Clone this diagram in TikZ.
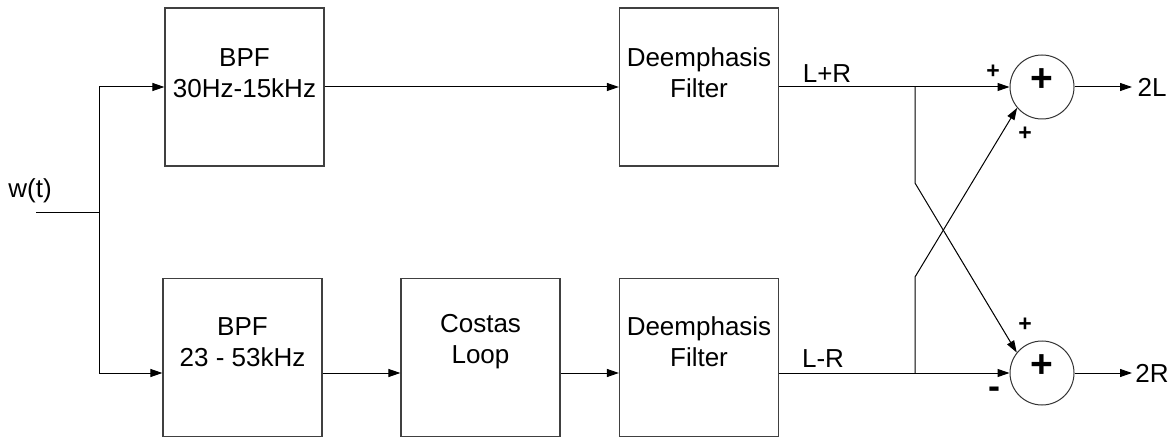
\documentclass[tikz,border=0pt]{standalone}
\usepackage{fontspec}
\setmainfont{Liberation Sans}
\usetikzlibrary{arrows.meta}
\begin{document}
\begin{tikzpicture}[x={(1pt,0)},y={(0,-1pt)},
  blk/.style={draw=black!75,line width=1.2pt,rectangle,minimum width=159pt,minimum height=158pt,inner sep=0pt},
  txt/.style={font=\fontsize{26}{31}\selectfont,align=center,inner sep=0pt},
  sumc/.style={draw=black!80,line width=1pt,circle,minimum size=64pt,inner sep=0pt},
  big/.style={font=\fontsize{39}{39}\selectfont\bfseries,inner sep=0pt},
  sgn/.style={font=\fontsize{23}{23}\selectfont\bfseries,inner sep=0pt},
  minus/.style={font=\fontsize{36}{36}\selectfont\bfseries,inner sep=0pt},
  wire/.style={line width=1pt},
  arr/.style={line width=1pt,-{Triangle[length=12pt,width=8pt]}}]
\useasboundingbox (0,0) rectangle (1175,438);
% blocks
\node[blk] (bpf1) at (244.5,87) {};
\node[blk] (bpf2) at (242.5,357.5) {};
\node[blk] (cos)  at (480.5,357.5) {};
\node[blk] (dp1)  at (699,87) {};
\node[blk] (dp2)  at (699,357.5) {};
\node[txt] (tbpf1) at (244.5,73) {BPF\\30Hz-15kHz};
\node[txt] (tbpf2) at (242.5,342) {BPF\\23 - 53kHz};
\node[txt] (tcos)  at (480.5,342) {Costas\\Loop};
\node[txt] (tdp1)  at (699,72.5) {Deemphasis\\Filter};
\node[txt] (tdp2)  at (699,342) {Deemphasis\\Filter};
% summers
\node[sumc] (sum1) at (1042,87) {};
\node[sumc] (sum2) at (1042,373) {};
\node[big] (p1) at (1042,80) {+};
\node[big] (p2) at (1042,366) {+};
\node[sgn] (s1) at (993,72) {+};
\node[sgn] (s2) at (1025,134) {+};
\node[sgn] (s3) at (1025,325) {+};
\node[minus] (s4) at (994,393) {-};
% labels
\node[txt] (w) at (30,191) {w(t)};
\node[txt] (lpr) at (827,74) {L+R};
\node[txt] (lmr) at (823,359) {L-R};
\node[txt] (o2l) at (1152,87) {2L};
\node[txt] (o2r) at (1152,373) {2R};
% coordinates
\coordinate (in) at (36,213);
\coordinate (br) at (99,213);
\coordinate (row2) at (0,373);
\coordinate (j1) at (915,87);
\coordinate (k1) at (915,183);
\coordinate (j2) at (915,373);
\coordinate (k2) at (915,277);
\coordinate (e1) at (1132,87);
\coordinate (e2) at (1132,373);
% wires
\draw[wire] (in) -- (br);
\draw[arr] (br) |- (bpf1.west);
\draw[arr] (br) |- (bpf2.west |- row2);
\draw[arr] (bpf1.east) -- (dp1.west);
\draw[arr] (bpf2.east |- row2) -- (cos.west |- row2);
\draw[arr] (cos.east |- row2) -- (dp2.west |- row2);
\draw[arr] (dp1.east) -- (sum1.west);
\draw[arr] (dp2.east |- row2) -- (sum2.west);
\draw[arr] (j1) -- (k1) -- (sum2.141);
\draw[arr] (j2) -- (k2) -- (sum1.220);
\draw[arr] (sum1.east) -- (e1);
\draw[arr] (sum2.east) -- (e2);
\end{tikzpicture}
\end{document}
